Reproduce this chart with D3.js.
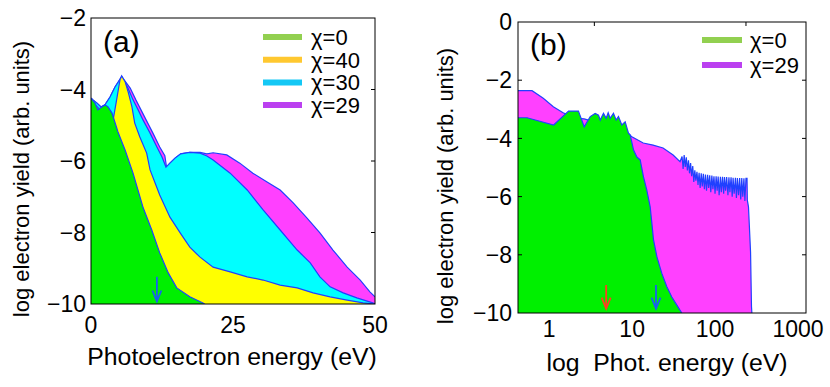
<!DOCTYPE html>
<html><head><meta charset="utf-8">
<script src="https://cdn.jsdelivr.net/npm/d3@7"></script>
<style>body{margin:0;background:#fff}svg{display:block}text{font-family:"Liberation Sans",Arial,Helvetica,sans-serif;fill:#000}</style>
</head><body>
<script>
// ---------- Panel (a) data ----------
const aTickX = [0, 25, 50];
const aTickY = [-2, -4, -6, -8, -10];
const aLegend = ["χ=0", "χ=40", "χ=30", "χ=29"];
const aE_chi29 = [0,0.35,1.05,1.76,2.46,3.35,4.23,5.4,6.9,7.9,8.8,9.7,10.9,12.1,13.0,13.3,13.9,14.8,15.8,17.4,19.2,20.4,21.5,23.9,26.2,28.5,31.0,33.3,35.6,38.0,40.3,42.6,45.1,47.4,49.1,50];
const aV_chi29 = [-4.24,-4.29,-4.38,-4.49,-4.43,-4.21,-3.93,-3.64,-3.96,-4.29,-4.57,-4.85,-5.22,-5.61,-5.85,-6.17,-6.06,-5.92,-5.80,-5.76,-5.76,-5.8,-5.77,-5.83,-6.06,-6.34,-6.59,-6.81,-7.17,-7.59,-8.01,-8.49,-8.97,-9.33,-9.66,-9.80];
const aE_chi30 = [0,0.35,1.05,1.76,2.46,3.35,4.23,5.4,6.5,7.4,8.3,9.15,10.4,11.6,12.5,13.2,13.9,14.8,15.8,17.4,19.2,20.4,21.5,24.5,27.5,30.3,33.3,36.3,38.6,40.3,42.1,44.4,46.8,49.6,50];
const aV_chi30 = [-4.24,-4.29,-4.38,-4.49,-4.43,-4.21,-3.93,-3.64,-3.96,-4.29,-4.57,-4.85,-5.22,-5.61,-5.89,-6.17,-6.06,-5.92,-5.80,-5.76,-5.78,-5.86,-5.97,-6.34,-6.81,-7.37,-7.93,-8.49,-8.85,-9.24,-9.52,-9.69,-9.83,-9.97,-10];
const aE_chi40 = [0,1.5,2.75,3.9,4.5,5.1,5.4,6.0,6.6,7.2,7.7,8.6,9.8,10.4,12.1,13.9,15.7,17.4,19.2,21.5,24.5,27.5,30.3,33.3,36.3,39.1,42.1,45.1,47.9,50];
const aV_chi40 = [-4.3,-4.55,-4.76,-4.85,-4.3,-3.73,-3.62,-3.78,-4.1,-4.48,-4.94,-5.33,-5.78,-6.25,-6.95,-7.57,-8.01,-8.41,-8.69,-8.97,-9.10,-9.24,-9.33,-9.47,-9.55,-9.69,-9.80,-9.89,-9.97,-10];
const aE_chi0 = [0,0.7,1.2,1.9,2.5,3.0,3.7,4.75,6.0,7.4,9.15,10.7,12.1,13.6,15.1,17.4,19.7,20];
const aV_chi0 = [-4.24,-4.38,-4.57,-4.49,-4.43,-4.49,-4.66,-5.19,-5.69,-6.34,-7.29,-7.93,-8.57,-9.13,-9.55,-9.80,-9.97,-10];
const aArrowE = [11.6];

// ---------- Panel (b) data ----------
const bTickLabels = [1, 10, 100, 1000];
const bTickMarks = [3.5, 236];
const bTickY = [0, -2, -4, -6, -8, -10];
const bLegend = ["χ=0", "χ=29"];
const bE_chi29 = [0.42,0.62,0.847,1.12,1.47,2.06,2.64,3.2,4,6,8.5,9.92,13.6,17.9,23.6,31.2,37.8,
  40,41.2,42.4,43.7,45,46.4,47.8,49.2,50.7,52.2,53.8,55.4,57,58.7,60.5,62.3,64.2,66.1,68.1,70.1,72.2,74.4,76.6,78.9,81.3,83.7,86.2,88.8,91.5,94.2,97,100,103,106,109,112,116,119,123,127,130,134,138,143,147,151,156,161,165,170,176,181,186,192,198,204,210,216,223,229,236,243,
  245,253,268,275,278];
const bV_chi29 = [-2.36,-2.36,-2.62,-2.91,-3.12,-3.3,-3.33,-3.4,-3.45,-3.6,-3.78,-3.94,-4.16,-4.23,-4.33,-4.57,-4.8,
  -4.62,-5.05,-4.57,-4.98,-4.65,-5.1,-4.75,-5.2,-4.85,-5.3,-4.95,-5.5,-5.1,-5.45,-5.15,-5.6,-5.18,-5.7,-5.2,-5.65,-5.22,-5.75,-5.24,-5.8,-5.25,-5.7,-5.27,-5.85,-5.28,-5.75,-5.3,-5.9,-5.3,-5.8,-5.31,-5.95,-5.32,-5.85,-5.32,-5.9,-5.33,-5.8,-5.33,-5.95,-5.34,-5.85,-5.34,-6.0,-5.35,-5.9,-5.35,-6.05,-5.36,-5.95,-5.36,-6.1,-5.36,-6.0,-5.37,-6.15,-5.37,-5.37,
  -6.12,-6.35,-7.9,-9.78,-10];
const bE_chi0 = [0.42,0.54,1.13,1.71,2.25,2.64,3.12,3.58,3.93,4.12,4.51,4.86,5.14,5.43,5.95,6.41,6.84,7.51,8.24,9.03,9.46,10.4,11.4,12.5,13.7,15.0,16.5,17.3,18.1,19.9,22.8,26.2,30.1,34.6,39.7];
const bV_chi0 = [-3.29,-3.29,-3.54,-3.06,-3.06,-3.60,-3.25,-3.14,-3.20,-3.37,-3.14,-3.31,-3.12,-3.31,-3.14,-3.37,-3.25,-3.54,-3.43,-3.82,-3.88,-4.40,-4.64,-4.74,-5.32,-5.77,-6.35,-6.92,-7.49,-8.07,-8.64,-9.10,-9.45,-9.73,-10];
const bArrowE = [4.86, 19.4];

const fillCol = {"χ=0":"#00f000","χ=40":"#ffff00","χ=30":"#00ffff","χ=29":"#ff40ff"};
const legCol = {"χ=0":"#92d050","χ=40":"#ffc830","χ=30":"#14c8f5","χ=29":"#bb40f0"};
const outline = "#2040ff";

const W = 830, H = 387;
const svg = d3.select("body").append("svg").attr("width", W).attr("height", H);
const FONT = 23, TITLE = 24.8;

function panel(opts) {
  const {x, y, series, clipId} = opts;
  const g = svg.append("g");
  const [x0, x1] = x.range(), [yb, yt] = y.range();
  g.append("clipPath").attr("id", clipId).append("rect")
    .attr("x", x0).attr("y", yt).attr("width", x1 - x0).attr("height", yb - yt);
  const data = g.append("g").attr("clip-path", `url(#${clipId})`);
  series.forEach(s => {
    const pts = s.E.map((e, i) => [e, s.V[i]]);
    data.append("path")
      .attr("d", d3.area().x(d => x(d[0])).y0(yb).y1(d => y(d[1]))(pts))
      .attr("fill", fillCol[s.name]);
    data.append("path")
      .attr("d", d3.line().x(d => x(d[0])).y(d => y(d[1]))(pts))
      .attr("fill", "none").attr("stroke", outline).attr("stroke-width", 1.2);
  });
  return g;
}

function arrow(g, px, yTop, yBot, col) {
  g.append("line").attr("x1", px).attr("x2", px).attr("y1", yTop).attr("y2", yBot)
    .attr("stroke", col).attr("stroke-width", 1.8);
  g.append("path").attr("d", `M${px-4.5},${yBot-11}L${px},${yBot}L${px+4.5},${yBot-11}`)
    .attr("fill", "none").attr("stroke", col).attr("stroke-width", 1.8);
}

// ---------- Panel (a) ----------
const xA = d3.scaleLinear().domain([0, 50]).range([91, 375]);
const yA = d3.scaleLinear().domain([-10, -2]).range([304, 18]);
const gA = panel({x: xA, y: yA, clipId: "ca", series: [
  {name: "χ=29", E: aE_chi29, V: aV_chi29},
  {name: "χ=30", E: aE_chi30, V: aV_chi30},
  {name: "χ=40", E: aE_chi40, V: aV_chi40},
  {name: "χ=0", E: aE_chi0, V: aV_chi0}
]});
aArrowE.forEach(e => arrow(gA, xA(e), yA(-9.24), yA(-9.93), "#1a60f0"));
gA.append("rect").attr("x", 91).attr("y", 18).attr("width", 284).attr("height", 286)
  .attr("fill", "none").attr("stroke", "#000").attr("stroke-width", 1);
aTickY.filter(v => v > -10 && v < -2).forEach(v => {
  gA.append("line").attr("x1", 375).attr("x2", 371).attr("y1", yA(v)).attr("y2", yA(v)).attr("stroke", "#000");
});
aTickY.forEach(v => gA.append("text").attr("x", 86).attr("y", yA(v)).attr("dy", "0.36em")
  .attr("text-anchor", "end").attr("font-size", FONT).text(v < 0 ? "\u2212" + Math.abs(v) : v));
aTickX.forEach(v => gA.append("text").attr("x", xA(v)).attr("y", 333)
  .attr("text-anchor", "middle").attr("font-size", FONT).text(v));
gA.append("text").attr("x", 232).attr("y", 365).attr("text-anchor", "middle").attr("font-size", TITLE)
  .text("Photoelectron energy (eV)");
gA.append("text").attr("transform", "translate(29,179) rotate(-90)").attr("text-anchor", "middle")
  .attr("font-size", 22).text("log electron yield (arb. units)");
gA.append("text").attr("x", 103).attr("y", 52).attr("font-size", 30).text("(a)");
aLegend.forEach((n, i) => {
  const yy = 37 + i * 22.7;
  gA.append("line").attr("x1", 263).attr("x2", 302).attr("y1", yy).attr("y2", yy)
    .attr("stroke", legCol[n]).attr("stroke-width", 6);
  gA.append("text").attr("x", 311).attr("y", yy).attr("dy", "0.36em").attr("font-size", 22).text(n);
});

// ---------- Panel (b) ----------
const xB = d3.scaleLog().domain([0.42, 1250]).range([518, 806]);
const yB = d3.scaleLinear().domain([-10, 0]).range([313, 22]);
const gB = panel({x: xB, y: yB, clipId: "cb", series: [
  {name: "χ=29", E: bE_chi29, V: bV_chi29},
  {name: "χ=0", E: bE_chi0, V: bV_chi0}
]});
const arrowCols = ["#ff4020", "#1a60f0"];
bArrowE.forEach((e, i) => arrow(gB, xB(e), yB(-9.04), yB(-9.85), arrowCols[i]));
gB.append("rect").attr("x", 518).attr("y", 22).attr("width", 288).attr("height", 291)
  .attr("fill", "none").attr("stroke", "#000").attr("stroke-width", 1);
bTickY.filter(v => v > -10 && v < 0).forEach(v => {
  gB.append("line").attr("x1", 806).attr("x2", 802).attr("y1", yB(v)).attr("y2", yB(v)).attr("stroke", "#000");
  gB.append("line").attr("x1", 518).attr("x2", 522).attr("y1", yB(v)).attr("y2", yB(v)).attr("stroke", "#000");
});
bTickMarks.forEach(e => {
  gB.append("line").attr("x1", xB(e)).attr("x2", xB(e)).attr("y1", 22).attr("y2", 26).attr("stroke", "#000");
});
bTickY.forEach(v => gB.append("text").attr("x", 512).attr("y", yB(v)).attr("dy", "0.36em")
  .attr("text-anchor", "end").attr("font-size", FONT).text(v < 0 ? "\u2212" + Math.abs(v) : v));
bTickLabels.forEach(v => gB.append("text").attr("x", xB(v)).attr("y", 337)
  .attr("text-anchor", "middle").attr("font-size", FONT).text(v));
gB.append("text").attr("x", 667).attr("y", 371).attr("text-anchor", "middle").attr("font-size", TITLE)
  .attr("xml:space", "preserve").style("white-space", "pre").text("log  Phot. energy (eV)");
gB.append("text").attr("transform", "translate(453,186) rotate(-90)").attr("text-anchor", "middle")
  .attr("font-size", 22).text("log electron yield (arb. units)");
gB.append("text").attr("x", 530).attr("y", 55).attr("font-size", 30).text("(b)");
bLegend.forEach((n, i) => {
  const yy = 40 + i * 25;
  gB.append("line").attr("x1", 702).attr("x2", 742).attr("y1", yy).attr("y2", yy)
    .attr("stroke", legCol[n]).attr("stroke-width", 6);
  gB.append("text").attr("x", 750).attr("y", yy).attr("dy", "0.36em").attr("font-size", 22).text(n);
});
</script>
</body></html>
